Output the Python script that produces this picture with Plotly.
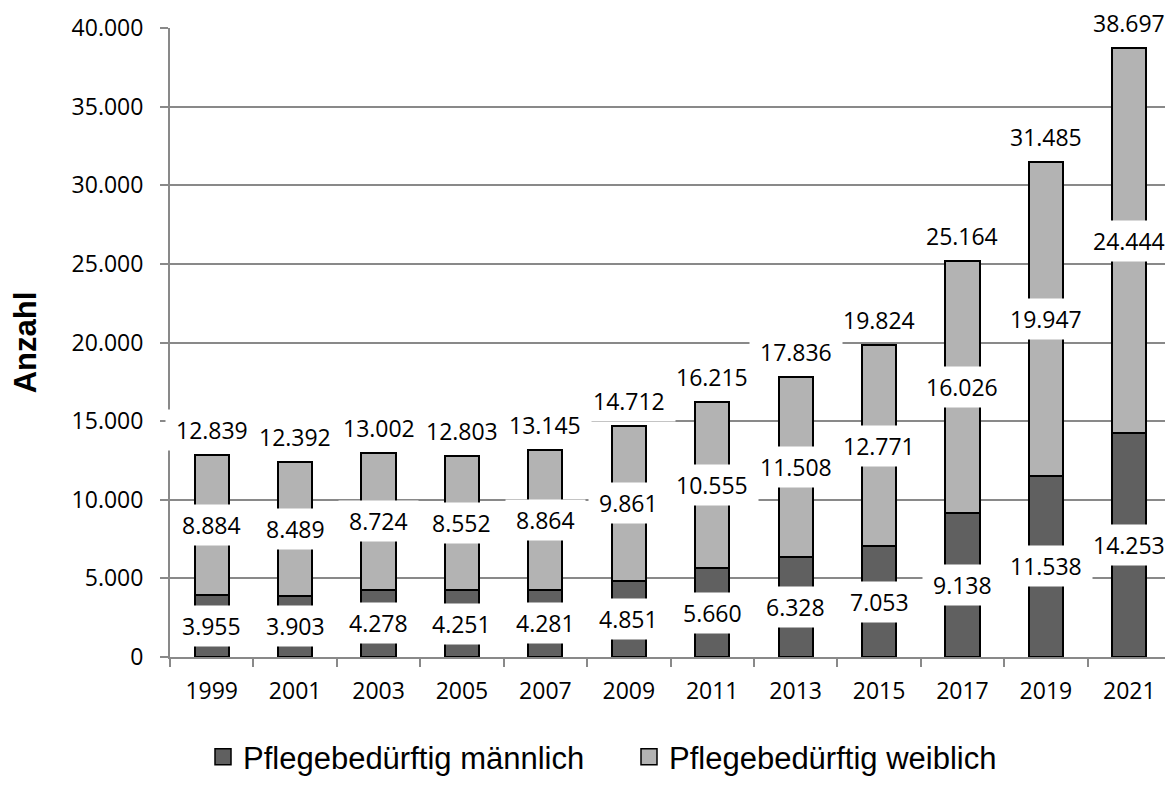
import plotly.graph_objects as go

years = ["1999", "2001", "2003", "2005", "2007", "2009", "2011", "2013", "2015", "2017", "2019", "2021"]
male = [3955, 3903, 4278, 4251, 4281, 4851, 5660, 6328, 7053, 9138, 11538, 14253]
female = [8884, 8489, 8724, 8552, 8864, 9861, 10555, 11508, 12771, 16026, 19947, 24444]
totals = [12839, 12392, 13002, 12803, 13145, 14712, 16215, 17836, 19824, 25164, 31485, 38697]
y_ticks = [0, 5000, 10000, 15000, 20000, 25000, 30000, 35000, 40000]

name_m = "Pflegebedürftig männlich"
name_f = "Pflegebedürftig weiblich"
col_m = "#606060"
col_f = "#b3b3b3"
grid = "#898989"
label_font = dict(family="Open Sans", size=23, color="#000000")


def fmt(v):
    return f"{v:,}".replace(",", ".")


fig = go.Figure()
fig.add_trace(go.Bar(x=years, y=male, name=name_m, marker=dict(color=col_m, line=dict(color="#000000", width=2)),
                     showlegend=False))
fig.add_trace(go.Bar(x=years, y=female, name=name_f, marker=dict(color=col_f, line=dict(color="#000000", width=2)),
                     showlegend=False))
# legend entries with larger square symbols
for nm, col in [(name_m, col_m), (name_f, col_f)]:
    fig.add_trace(go.Scatter(x=[years[0]], y=[None], mode="markers", name=nm,
                             marker=dict(symbol="square", size=16, color=col, line=dict(color="#000000", width=1.5))))

nb = "\u00a0"
annotations = []
for i, (m, f, t) in enumerate(zip(male, female, totals)):
    for val, ypos, shift in [(m, m / 2, 0), (f, m + f / 2, 0), (t, t, 25)]:
        annotations.append(dict(x=i, y=ypos, xref="x", yref="y", text=nb + fmt(val) + nb, showarrow=False,
                                yshift=shift, font=label_font, bgcolor="#ffffff", borderpad=4,
                                xanchor="center", yanchor="middle"))

# page body has an 8px margin: figure is shifted by 8px right and down
fig.update_layout(
    width=1165, height=784,
    margin=dict(l=162, r=2, t=20, b=135),
    paper_bgcolor="#ffffff", plot_bgcolor="#ffffff",
    barmode="stack", bargap=0.59,
    separators=",.",
    font=dict(family="Open Sans", size=23, color="#000000"),
    annotations=annotations,
    showlegend=True,
    legend=dict(orientation="h", xref="container", yref="container", x=195 / 1165, y=1 - 749 / 784,
                xanchor="left", yanchor="middle", entrywidth=381, itemwidth=30, traceorder="normal",
                font=dict(family="Liberation Sans, Arial", size=31, color="#000000"),
                bgcolor="rgba(0,0,0,0)"),
)
fig.update_xaxes(type="category", categoryorder="array", categoryarray=years, range=[-0.5, len(years) - 0.5],
                 showline=True, linecolor=grid, linewidth=2, ticks="outside", tickson="boundaries",
                 ticklen=8, tickcolor=grid, tickwidth=2, showgrid=False, tickangle=0,
                 tickfont=dict(family="Open Sans", size=23, color="#000000"), ticklabelstandoff=12)
fig.update_yaxes(range=[0, 40000], tickvals=y_ticks, tickformat=",d", showline=True, linecolor=grid, linewidth=2,
                 ticks="outside", ticklen=8, tickcolor=grid, tickwidth=2, showgrid=True, gridcolor=grid, gridwidth=2,
                 zeroline=False, tickfont=dict(family="Open Sans", size=23, color="#000000"), ticklabelstandoff=12,
                 title=dict(text="<b>Anzahl</b>", font=dict(family="Liberation Sans, Arial", size=31, color="#000000"),
                            standoff=28))

fig.write_html("out.html")
